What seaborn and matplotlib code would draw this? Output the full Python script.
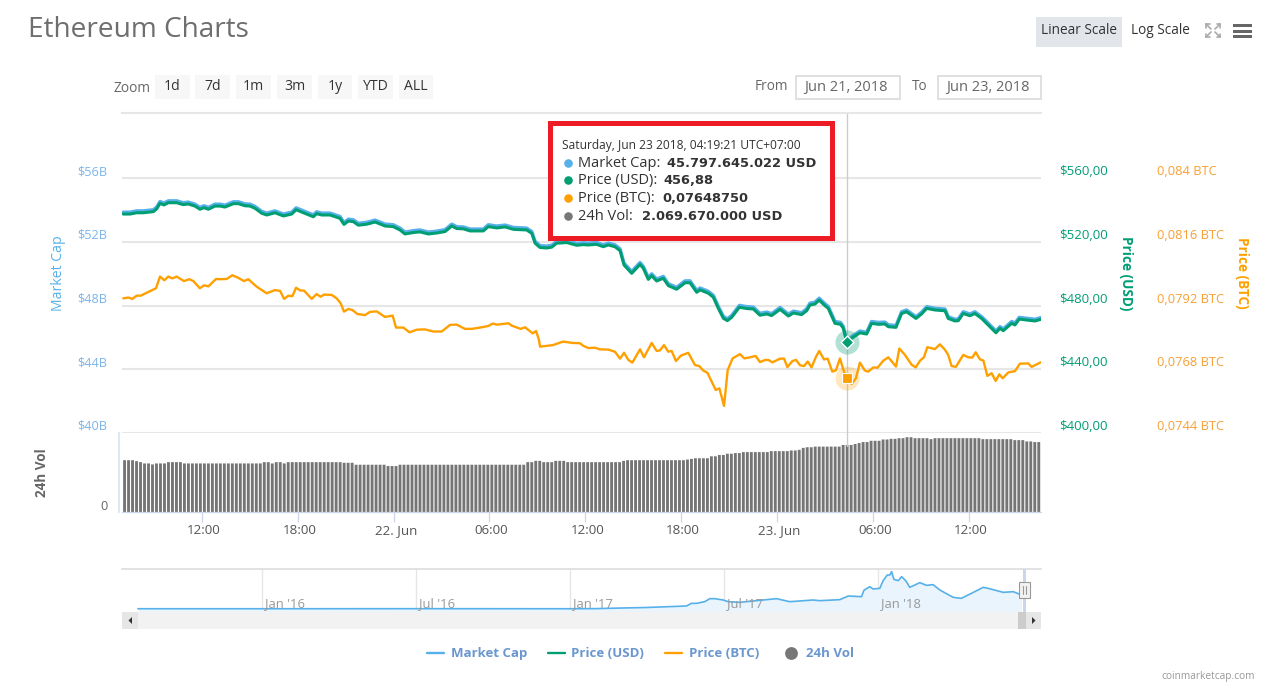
import numpy as np
import matplotlib
matplotlib.use("Agg")
import matplotlib.pyplot as plt
from matplotlib.patches import Rectangle, Polygon
from matplotlib.transforms import ScaledTranslation
import seaborn as sns

# price / market cap (hours since 21 Jun 00:00)
usd_hours = [7.07,7.49,7.91,8.33,8.95,9.16,9.37,9.62,9.89,10.41,10.83,11.14,11.56,11.87,12.13,12.40,12.81,13.13,13.44,13.96,
             14.28,14.69,15.01,15.32,15.74,16.05,16.57,17.10,17.62,17.89,18.35,18.97,19.18,19.50,20.02,20.64,20.89,21.17,21.48,21.79,
             22.31,22.84,23.46,23.98,24.40,24.71,25.24,25.65,26.18,26.70,27.22,27.64,27.95,28.37,28.79,29.62,29.93,30.46,30.98,31.50,
             32.33,32.65,32.86,33.17,33.59,33.90,34.21,34.84,35.47,35.88,
             36.19,36.71,37.13,37.44,37.86,38.18,38.43,38.91,39.43,39.64,39.95,40.16,40.47,40.89,41.20,41.72,42.25,42.56,42.98,43.19,
             43.71,44.02,44.33,44.65,44.90,45.17,45.65,46.11,46.53,46.94,47.36,47.67,48.20,48.72,49.03,49.55,49.87,
             50.07,50.38,50.65,51.01,51.22,51.64,51.99,52.16,52.38,52.68,53.20,53.62,53.93,54.35,54.77,54.98,55.46,55.81,56.12,56.71,
             57.06,57.38,57.90,58.53,58.73,59.15,59.36,59.67,60.09,60.40,60.82,61.13,61.72,61.97,62.18,62.70,62.91,63.18,63.64,64.16,64.52]
usd_price = [537.4,537.4,538.2,538.2,538.9,540.6,544.1,543.1,544.5,544.5,543.3,543.7,542.4,540.4,541.4,540.4,542.4,542.4,541.8,543.9,
             543.9,542.6,542.4,541,537.9,536.8,538.2,536.2,537.4,540.1,538.2,535.7,537.6,536.8,536.8,534.7,530.9,533,532.6,530.4,
             531,532.4,529.9,529.5,527.4,524.9,525.8,526.2,524.9,525.5,526.4,529.9,528.3,528.1,526.8,526.8,529.5,528.7,529.3,527.8,
             527.4,525.3,519.1,516.4,516.1,516.6,519.1,519.5,517.8,518.2,
             518,518.4,516.9,518,516.9,514.4,505.4,500.2,505.8,503.3,496.4,498.7,495.4,497.1,492.5,490.2,494.3,494.3,488.3,489.8,
             487.7,485.2,478.3,472,470.5,472.6,478.9,478.1,477.8,473.9,474.7,473.7,477.6,473.4,475.3,474.3,476.8,
             480.3,480.9,483.4,479.9,478.2,468.8,468.2,465.7,456.9,459.4,462.9,462.1,468.8,468.2,468.4,466.7,466.3,475,476.1,471.9,
             474.7,478.2,477.2,476.7,471.9,470.3,470.5,475,473.6,475,471.9,468.8,462.9,465.7,464.2,468.8,467.8,471.5,470.9,470.3,471.3]
market_cap = [53.86,53.86,53.94,53.94,54.01,54.18,54.53,54.43,54.57,54.57,54.45,54.49,54.36,54.16,54.26,54.16,54.36,54.36,54.30,54.51,
              54.51,54.38,54.36,54.22,53.91,53.80,53.94,53.74,53.86,54.13,53.94,53.69,53.88,53.80,53.80,53.59,53.21,53.42,53.38,53.16,
              53.22,53.36,53.11,53.07,52.86,52.61,52.70,52.74,52.61,52.67,52.76,53.11,52.95,52.93,52.80,52.80,53.07,52.99,53.05,52.90,
              52.86,52.65,52.03,51.76,51.73,51.78,52.03,52.07,51.90,51.94,
              51.92,51.96,51.81,51.92,51.81,51.56,50.66,50.14,50.70,50.45,49.76,49.99,49.66,49.83,49.37,49.14,49.55,49.55,48.95,49.10,
              48.89,48.64,47.95,47.32,47.17,47.38,48.01,47.93,47.90,47.51,47.59,47.49,47.88,47.46,47.65,47.55,47.80,
              48.15,48.21,48.46,48.11,47.94,47.00,46.94,46.69,45.80,46.05,46.40,46.32,47.00,46.94,46.96,46.79,46.75,47.61,47.72,47.30,
              47.58,47.93,47.83,47.78,47.30,47.14,47.16,47.61,47.47,47.61,47.30,47.00,46.40,46.68,46.53,47.00,46.90,47.26,47.20,47.14,47.24]

btc_hours = [7.07,7.39,7.64,7.91,8.16,8.54,9.12,9.37,9.64,9.89,10.14,10.41,10.87,11.21,11.46,11.87,12.13,12.40,12.88,13.13,
             13.55,13.90,14.28,14.63,14.90,15.42,16.05,16.57,16.89,17.14,17.41,17.66,17.89,18.14,18.39,18.87,19.18,19.43,19.64,20.12,
             20.43,20.69,20.89,21.17,21.42,21.73,22.21,22.52,22.94,23.46,23.94,24.15,24.61,24.99,25.45,25.97,26.49,27.01,27.53,27.95,
             28.47,28.89,29.52,29.93,30.21,30.46,31.19,31.40,31.96,32.23,32.71,32.92,33.09,33.17,33.98,34.60,35.23,
             35.67,35.88,36.19,36.61,36.92,37.44,37.86,38.18,38.43,38.70,38.95,39.43,39.68,40.16,40.47,40.68,40.93,41.20,41.41,41.68,
             41.98,42.45,42.87,43.14,43.39,43.65,44.17,44.40,44.69,44.92,45.23,45.69,45.96,46.32,46.67,46.94,47.26,47.47,47.72,48.20,
             48.45,48.66,48.97,49.20,49.45,49.70,49.93,50.17,50.45,50.65,50.95,51.18,51.47,51.70,51.95,52.20,52.38,52.68,52.95,53.20,
             53.51,53.72,54.04,54.31,54.66,54.98,55.46,55.67,56.02,56.44,56.69,56.96,57.21,57.42,57.90,58.21,58.53,58.73,58.94,59.21,
             59.67,59.99,60.24,60.45,60.72,60.93,61.18,61.45,61.70,61.93,62.14,62.49,62.91,63.22,63.74,63.95,64.52]
btc_price = [.07947,.07950,.07945,.07957,.07957,.07968,.07985,.08029,.08015,.08029,.08022,.08029,.08012,.08019,.08012,.07985,.07996,.07992,.08020,.08019,
             .08020,.08034,.08024,.08012,.08019,.07991,.07966,.07978,.07975,.07945,.07957,.07955,.07987,.07977,.07976,.07945,.07963,.07953,.07961,.07960,
             .07947,.07928,.07897,.07907,.07903,.07888,.07884,.07896,.07898,.07877,.07882,.07837,.07837,.07819,.07829,.07830,.07822,.07822,.07847,.07848,
             .07832,.07832,.07838,.07843,.07852,.07848,.07853,.07844,.07832,.07838,.07815,.07824,.07793,.07765,.07771,.07784,.07779,
             .07778,.07768,.07760,.07761,.07755,.07754,.07746,.07720,.07742,.07715,.07705,.07755,.07725,.07779,.07749,.07751,.07771,.07746,.07749,.07711,
             .07731,.07742,.07696,.07692,.07675,.07667,.07602,.07608,.07542,.07677,.07721,.07737,.07721,.07725,.07730,.07707,.07715,.07715,.07706,.07720,
             .07720,.07688,.07711,.07715,.07695,.07692,.07709,.07687,.07727,.07749,.07717,.07720,.07671,.07676,.07721,.07671,.07649,.07625,.07646,.07705,
             .07675,.07671,.07687,.07686,.07712,.07725,.07690,.07758,.07734,.07697,.07687,.07712,.07725,.07763,.07756,.07774,.07753,.07734,.07692,.07689,
             .07734,.07725,.07724,.07744,.07717,.07713,.07655,.07665,.07636,.07661,.07646,.07668,.07673,.07701,.07702,.07689,.07706]

# 24h volume in $B, one bar per 15 minutes
volume = [1.60,1.60,1.60,1.57,1.54,1.50,1.50,1.47,1.50,1.50,
          1.50,1.54,1.54,1.54,1.54,1.50,1.50,1.50,1.50,1.50,
          1.50,1.50,1.50,1.50,1.50,1.50,1.50,1.50,1.50,1.50,
          1.50,1.50,1.50,1.50,1.50,1.54,1.54,1.50,1.54,1.54,
          1.50,1.54,1.54,1.54,1.54,1.54,1.54,1.54,1.54,1.54,
          1.54,1.54,1.54,1.54,1.54,1.52,1.52,1.52,1.46,1.46,
          1.46,1.46,1.46,1.46,1.46,1.46,1.42,1.42,1.42,1.46,
          1.46,1.46,1.46,1.46,1.46,1.46,1.46,1.46,1.46,1.46,
          1.46,1.46,1.46,1.46,1.46,1.46,1.46,1.46,1.46,1.46,
          1.46,1.46,1.46,1.46,1.46,1.46,1.46,1.46,1.46,1.46,
          1.46,1.54,1.54,1.58,1.58,1.54,1.54,1.54,1.58,1.58,
          1.58,1.54,1.54,1.54,1.54,1.54,1.54,1.54,1.54,1.54,
          1.54,1.54,1.54,1.54,1.54,1.58,1.60,1.60,1.60,1.60,
          1.60,1.60,1.60,1.60,1.60,1.60,1.60,1.60,1.60,1.60,
          1.60,1.62,1.64,1.66,1.66,1.66,1.66,1.72,1.72,1.76,
          1.76,1.80,1.80,1.82,1.82,1.85,1.85,1.85,1.85,1.85,
          1.85,1.85,1.88,1.88,1.88,1.88,1.88,1.90,1.90,1.92,
          1.98,2.00,2.00,2.02,2.02,2.02,2.02,2.02,2.02,2.02,
          2.07,2.07,2.07,2.10,2.13,2.16,2.16,2.20,2.20,2.20,
          2.24,2.24,2.26,2.26,2.28,2.28,2.31,2.31,2.28,2.28,
          2.28,2.28,2.25,2.28,2.28,2.28,2.28,2.28,2.28,2.28,
          2.28,2.28,2.28,2.28,2.28,2.25,2.25,2.25,2.25,2.25,
          2.25,2.25,2.25,2.22,2.22,2.22,2.18,2.18,2.16,2.16]

# navigator series: months since Jan 2016, market cap in $B
nav_months = [-4.83,0,1,6,12,13,14,15,15.50,16.54,16.73,16.93,17.25,17.45,17.64,17.97,18.16,18.62,19.27,20.05,
              20.56,20.95,21.47,21.73,22.51,22.84,23.36,23.45,23.68,23.81,24.07,24.20,24.36,24.46,24.53,24.62,24.79,24.92,25.08,25.24,
              25.63,25.89,26.15,26.41,26.93,27.25,27.64,28.10,28.29,28.88,29.27,29.59]
nav_cap = [0.9,0.9,0.9,1.1,0.9,1.3,3.5,5.5,7.3,10.9,20.6,20.6,26.7,37.7,37.7,32.8,26.7,24.3,30.4,37.7,
           26.7,29.2,32.8,30.4,34,47.4,45,68.1,81.5,73,75.4,103.4,124.1,124.1,136.3,108.3,103.4,118,103.4,79.1,
           96.1,86.4,88.8,69.3,42.5,38.9,57.2,79.1,75.4,60.8,63.2,51.1]
nav_ticks = [0,6,12,18,24]
nav_labels = ["Jan '16","Jul '16","Jan '17","Jul '17","Jan '18"]

x_ticks = [12,18,24,30,36,42,48,54,60]
x_labels = ["12:00","18:00","22. Jun","06:00","12:00","18:00","23. Jun","06:00","12:00"]
cap_ticks = [40,44,48,52,56]
cap_labels = ["$40B","$44B","$48B","$52B","$56B"]
usd_ticks = [400,440,480,520,560]
usd_labels = ["$400,00","$440,00","$480,00","$520,00","$560,00"]
btc_ticks = [0.0744,0.0768,0.0792,0.0816,0.084]
btc_labels = ["0,0744 BTC","0,0768 BTC","0,0792 BTC","0,0816 BTC","0,084 BTC"]

hover_hour = 52.38
hover_usd = 456.88
hover_btc = 0.0764875

BLUE = "#56b0ea"
GREEN = "#009e73"
ORANGE = "#ffa000"
W, H = 1281, 696
FONT = "Open Sans"

sns.set_theme(style="white")
plt.rcParams["font.family"] = [FONT, "DejaVu Sans"]


def px_axes(left, top, right, bottom):
    return fig.add_axes([left / W, 1 - bottom / H, (right - left) / W, (bottom - top) / H])


def pt(px):
    return px * 0.72


fig = plt.figure(figsize=(W / 100, H / 100), dpi=100)

# main price panel
ax = px_axes(122, 113, 1041, 433)
sns.lineplot(x=usd_hours, y=market_cap, color=BLUE, lw=2.4, ax=ax, errorbar=None)
ax.set_xlim(6.99, 64.54)
ax.set_ylim(40, 60.08)
ax.set_yticks(cap_ticks)
ax.set_yticklabels(cap_labels, color="#7cb5ec", fontsize=pt(12.7))
ax.set_xticks([])
ax.grid(axis="y", color="#e6e6e6", lw=1.5)
ax.set_axisbelow(True)
ax.tick_params(axis="y", length=0, pad=pt(15))
for s in ["left", "right", "bottom"]:
    ax.spines[s].set_visible(False)
ax.spines["top"].set_color("#e6e6e6")
ax.spines["top"].set_linewidth(1.5)
ax.set_ylabel("")
ax.axvline(hover_hour, color="#cccccc", lw=1)

usd_ax = ax.twinx()
sns.lineplot(x=usd_hours, y=usd_price, color=GREEN, lw=2.2, ax=usd_ax, errorbar=None)
usd_ax.set_ylim(400, 600.8)
usd_ax.set_yticks(usd_ticks)
usd_ax.set_yticklabels(usd_labels, color=GREEN, fontsize=pt(13.3))
usd_ax.tick_params(axis="y", length=0, pad=pt(18))
usd_ax.set_ylabel("")
usd_ax.grid(False)

btc_ax = ax.twinx()
sns.lineplot(x=btc_hours, y=btc_price, color=ORANGE, lw=1.7, ax=btc_ax, errorbar=None)
btc_ax.set_ylim(0.0744, 0.0744 + 0.0096 * 20.08 / 16)
btc_ax.set_yticks(btc_ticks)
btc_ax.set_yticklabels(btc_labels, color="#f7a035", fontsize=pt(12.9))
btc_ax.tick_params(axis="y", length=0, pad=pt(116))
btc_ax.set_ylabel("")
btc_ax.grid(False)

for a in [ax, usd_ax, btc_ax]:
    for lab in a.get_yticklabels():
        lab.set_va("bottom")
    for s in ["left", "right", "bottom", "top"]:
        if a is not ax:
            a.spines[s].set_visible(False)

# hover markers
usd_ax.scatter([hover_hour], [hover_usd], s=300, color=GREEN, alpha=0.3, linewidths=0, zorder=5)
usd_ax.scatter([hover_hour], [hover_usd], s=42, marker="D", color=GREEN, edgecolors="white", linewidths=1, zorder=6)
btc_ax.scatter([hover_hour], [hover_btc], s=300, color=ORANGE, alpha=0.25, linewidths=0, zorder=5)
btc_ax.scatter([hover_hour], [hover_btc], s=55, marker="s", color=ORANGE, edgecolors="white", linewidths=0.8, zorder=6)

# volume panel
vol_ax = px_axes(122, 433, 1041, 512)
vol_hours = 7.15 + 0.25 * np.arange(len(volume))
sns.barplot(x=vol_hours, y=volume, native_scale=True, color="#757575", saturation=1, width=0.72, ax=vol_ax, errorbar=None)
for bar in vol_ax.patches:
    bar.set_snap(False)
    bar.set_linewidth(0)
vol_ax.set_xlim(6.99, 64.54)
vol_ax.set_ylim(0, 2.44)
vol_ax.set_yticks([])
vol_ax.set_xticks(x_ticks)
vol_ax.set_xticklabels(x_labels, color="#555555", fontsize=pt(13.4))
vol_ax.tick_params(axis="x", length=pt(10), width=0.9, color="#ccd6eb", pad=pt(2.5), bottom=True)
label_shift = ScaledTranslation(1.5 / 72, 0, fig.dpi_scale_trans)
for lab in vol_ax.get_xticklabels():
    lab.set_transform(lab.get_transform() + label_shift)
vol_ax.set_ylabel("")
vol_ax.patch.set_alpha(0)
for s in ["top", "right"]:
    vol_ax.spines[s].set_visible(False)
vol_ax.spines["bottom"].set_color("#ccd6eb")
vol_ax.spines["bottom"].set_linewidth(0.9)
vol_ax.spines["left"].set_color("#dbe3f3")
vol_ax.spines["left"].set_position(("outward", 2))
vol_ax.axvline(hover_hour, ymin=0.84, color="#cccccc", lw=1, zorder=5)

# navigator
nav_ax = px_axes(122, 569, 1041, 612)
sns.lineplot(x=nav_months, y=nav_cap, color=BLUE, lw=1.2, ax=nav_ax, errorbar=None, zorder=3)
nav_ax.fill_between(nav_months, nav_cap, -11, color="#e9f4fc", lw=0, zorder=1)
nav_ax.set_xlim(-5.45, 30.35)
nav_ax.set_ylim(-11, 146)
nav_ax.set_xticks(nav_ticks)
nav_ax.set_xticklabels([])
nav_ax.set_yticks([])
nav_ax.tick_params(axis="x", length=0)
nav_ax.grid(axis="x", color="#e6e6e6", lw=1)
nav_ax.set_axisbelow(True)
nav_ax.set_ylabel("")
for s in ["left", "right", "bottom"]:
    nav_ax.spines[s].set_visible(False)
nav_ax.spines["top"].set_color("#dddddd")
nav_ax.spines["top"].set_linewidth(1.2)
for m, lab in zip(nav_ticks, nav_labels):
    nav_ax.annotate(lab, xy=(m, 0), xycoords=nav_ax.get_xaxis_transform(), xytext=(3, 5),
                    textcoords="offset pixels", color="#999999", fontsize=pt(13), zorder=4)

# everything around the plot, in pixel coordinates
ov = fig.add_axes([0, 0, 1, 1], zorder=10)
ov.set_xlim(0, W)
ov.set_ylim(H, 0)
ov.axis("off")


def text(x, y, s, px=13, color="#555555", ha="left", va="center", **kw):
    ov.text(x, y + 1, s, fontsize=pt(px), color=color, ha=ha, va=va, **kw)


def box(x0, y0, x1, y1, **kw):
    ov.add_patch(Rectangle((x0, y0), x1 - x0, y1 - y0, **kw))


text(28, 29, "Ethereum Charts", px=28, color="#6e6e6e")

box(1036, 17, 1122, 47, fc="#e2e5ea", ec="none")
text(1079, 30, "Linear Scale", px=13.6, color="#333333", ha="center")
text(1131, 30, "Log Scale", px=13.6, color="#333333")
for x0, x1, y0, y1 in [(1206, 1211, 24, 29), (1220, 1215, 24, 29), (1206, 1211, 37, 32), (1220, 1215, 37, 32)]:
    ov.plot([x0, x1], [y0, y1], color="#aaaaaa", lw=1.2)
    ov.plot([x0, x0 + (x1 - x0) * 0.7], [y0, y0], color="#aaaaaa", lw=1.2)
    ov.plot([x0, x0], [y0, y0 + (y1 - y0) * 0.7], color="#aaaaaa", lw=1.2)
for y in [25.5, 31, 36.5]:
    box(1233, y - 1.5, 1252, y + 1.5, fc="#666666", ec="none")

text(113, 87, "Zoom", px=13.8, color="#666666")
zoom_btns = [("1d", 155, 190), ("7d", 195, 230), ("1m", 236, 271), ("3m", 277, 312), ("1y", 318, 352), ("YTD", 358, 393), ("ALL", 399, 433)]
for lab, x0, x1 in zoom_btns:
    box(x0, 75, x1, 99, fc="#f7f7f7", ec="none")
    text((x0 + x1) / 2, 86, lab, px=14, color="#333333", ha="center")

text(755, 86, "From", px=13.6, color="#666666")
box(796, 76, 900, 99, fc="white", ec="#dddddd", lw=1.3)
text(804, 86, "Jun 21, 2018", px=14.6, color="#666666")
text(912, 86, "To", px=13.6, color="#666666")
box(938, 76, 1041, 99, fc="white", ec="#dddddd", lw=1.3)
text(946, 86, "Jun 23, 2018", px=14.6, color="#666666")

text(100, 505, "0", px=12.7, color="#666666")
text(59, 272, "Market Cap", px=14, color=BLUE, ha="center", rotation=90)
text(42, 472, "24h Vol", px=13.5, color="#666666", ha="center", rotation=90, fontweight="bold")
text(1126, 272, "Price (USD)", px=13.6, color=GREEN, ha="center", rotation=270, fontweight="bold")
text(1242, 272, "Price (BTC)", px=13.6, color=ORANGE, ha="center", rotation=270, fontweight="bold")

# tooltip with the red frame
box(549.5, 122.5, 831.5, 238, fc="white", ec="#ed1c24", lw=pt(5))
text(562, 145, "Saturday, Jun 23 2018, 04:19:21 UTC+07:00", px=12, color="#333333")
tooltip_rows = [
    (163, BLUE, "Market Cap:", "45.797.645.022 USD", 667),
    (180, GREEN, "Price (USD):", "456,88", 663),
    (198, ORANGE, "Price (BTC):", "0,07648750", 662),
    (216, "#777777", "24h Vol:", "2.069.670.000 USD", 642),
]
for y, col, name, val, xval in tooltip_rows:
    ov.scatter([568], [y], s=38, color=col, linewidths=0)
    text(578, y - 0.5, name, px=14.6, color="#333333")
    text(xval, y - 0.5, val, px=13, color="#333333", fontweight="bold", family="DejaVu Sans")

# navigator handle and scrollbar
box(122, 612, 1041, 629, fc="#f2f2f2", ec="none")
box(122, 612, 138, 629, fc="#e6e6e6", ec="none")
box(1018, 612, 1026, 629, fc="#cccccc", ec="none")
box(1026, 612, 1041, 629, fc="#e6e6e6", ec="none")
ov.add_patch(Polygon([[132, 617], [132, 624], [128.5, 620.5]], fc="#333333", ec="none"))
ov.add_patch(Polygon([[1032, 617], [1032, 624], [1035.5, 620.5]], fc="#333333", ec="none"))
box(1023, 569, 1025.5, 612, fc="#ccd6eb", ec="none")
box(1019, 582, 1029.5, 598, fc="#f2f2f2", ec="#999999", lw=0.8)
for x in [1022.8, 1025.6]:
    ov.plot([x, x], [586, 594], color="#999999", lw=0.8)

# legend
LEG = "#6a97cf"
for x0, col, lab, xt in [(427, BLUE, "Market Cap", 451), (548, GREEN, "Price (USD)", 571), (665, ORANGE, "Price (BTC)", 689)]:
    ov.plot([x0, x0 + 17], [653, 653], color=col, lw=1.7)
    text(xt, 652.5, lab, px=13.2, color=LEG, fontweight="bold")
ov.scatter([791], [653], s=85, color="#777777", linewidths=0)
text(806, 652.5, "24h Vol", px=13.2, color=LEG, fontweight="bold")

text(1255, 676, "coinmarketcap.com", px=10.1, color="#999999", ha="right")

fig.savefig("out.png", dpi=100)
